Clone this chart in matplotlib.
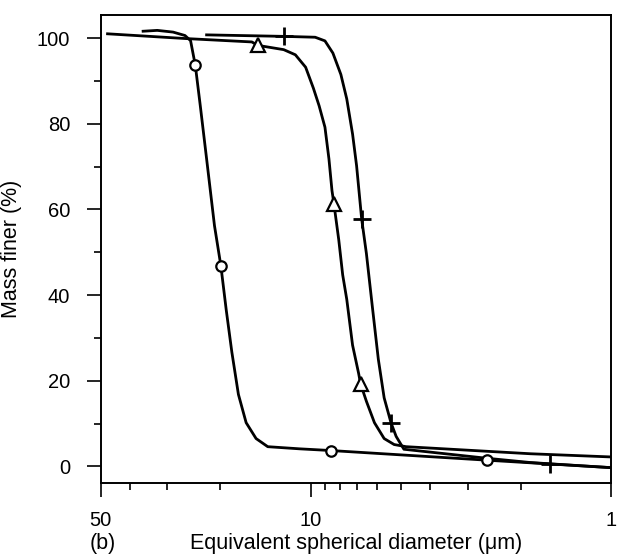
import matplotlib
matplotlib.use("Agg")
import matplotlib.pyplot as plt
from matplotlib.ticker import FixedLocator, NullFormatter

plt.rcParams['font.family'] = ['Liberation Sans', 'DejaVu Sans']

# Крива з колами (o)
circle_d = [36.1, 32.4, 28.7, 26.2, 25.1, 24.2, 23.3, 22.2, 20.9, 19.9, 19.1, 18.3,
            17.4, 16.4, 15.2, 13.9, 10.9, 8.57, 2.6, 1.0]
circle_m = [101.6, 101.8, 101.4, 100.6, 99.4, 93.6, 84.2, 71.8, 56.2, 46.8, 36.5, 26.7,
            16.8, 10.2, 6.5, 4.6, 4.1, 3.7, 1.45, -0.3]
circle_mark_d = [24.2, 19.9, 8.57, 2.6]
circle_mark_m = [93.6, 46.8, 3.7, 1.45]

# Крива з трикутниками
tri_d = [47.4, 26.2, 15.7, 15.0, 12.3, 11.25, 10.4, 9.8, 9.38, 8.97, 8.7, 8.5, 8.37,
         8.07, 7.83, 7.59, 7.26, 6.93, 6.83, 6.53, 6.14, 5.7, 5.28, 4.82, 1.86, 1.0]
tri_m = [101.0, 99.9, 99.1, 98.3, 97.3, 96.1, 93.2, 88.3, 84.2, 79.2, 71.8, 64.4, 61.2,
         52.9, 44.7, 39.0, 28.3, 21.7, 19.3, 15.2, 10.2, 6.5, 5.1, 4.6, 2.95, 2.2]
tri_mark_d = [15.0, 8.37, 6.83]
tri_mark_m = [98.3, 61.2, 19.3]

# Крива з хрестиками (+)
plus_d = [22.2, 12.3, 9.67, 8.97, 8.44, 7.94, 7.59, 7.26, 7.04, 6.77, 6.53, 6.24,
          5.96, 5.7, 5.41, 5.2, 4.9, 2.6, 1.86, 1.6, 1.0]
plus_m = [100.75, 100.4, 100.2, 99.35, 96.5, 91.5, 85.8, 77.6, 70.2, 57.7, 49.7, 37.3,
          25.0, 16.0, 10.2, 7.0, 4.0, 1.9, 0.9, 0.6, -0.3]
plus_mark_d = [12.3, 6.77, 5.41, 1.6]
plus_mark_m = [100.4, 57.7, 10.2, 0.6]

x_major = [50, 10, 1]
x_major_labels = ['50', '10', '1']
x_minor = [40, 30, 20, 9, 8, 7, 6, 5, 4, 3, 2]
y_major = [0, 20, 40, 60, 80, 100]
y_minor = [10, 30, 50, 70, 90]

fig = plt.figure(figsize=(6.17, 5.54), dpi=100)
ax = fig.add_axes([0.163, 0.128, 0.828, 0.845])

lw = 2.0
ax.plot(circle_d, circle_m, color='black', lw=lw)
ax.plot(tri_d, tri_m, color='black', lw=lw)
ax.plot(plus_d, plus_m, color='black', lw=lw)

# маркери
ax.plot(circle_mark_d, circle_mark_m, 'o', ms=7.5, mfc='white', mec='black', mew=1.6, ls='none')
ax.plot(tri_mark_d, tri_mark_m, '^', ms=9.5, mfc='white', mec='black', mew=1.6, ls='none')
ax.plot(plus_mark_d, plus_mark_m, '+', ms=13, mec='black', mew=2.0, ls='none')

ax.set_xscale('log')
ax.set_xlim(50, 1)
ax.set_ylim(-3.9, 105.4)

ax.xaxis.set_major_locator(FixedLocator(x_major))
ax.set_xticklabels(x_major_labels)
ax.xaxis.set_minor_locator(FixedLocator(x_minor))
ax.xaxis.set_minor_formatter(NullFormatter())
ax.set_yticks(y_major)
ax.yaxis.set_minor_locator(FixedLocator(y_minor))

ax.tick_params(which='major', length=10, width=1.2, labelsize=14.5, direction='out')
ax.tick_params(which='minor', length=5, width=1.2, direction='out')
ax.tick_params(axis='y', which='major', pad=12)
ax.tick_params(axis='x', which='major', pad=10)
ax.tick_params(top=False, right=False)

for sp in ax.spines.values():
    sp.set_linewidth(1.4)

ax.set_ylabel('Mass finer (%)', fontsize=15.5)
ax.yaxis.set_label_coords(-0.154, 0.5)
ax.set_xlabel('Equivalent spherical diameter (\u03bcm)', fontsize=15.5, va='center')
ax.xaxis.set_label_coords(0.5, -0.128)
fig.text(103 / 617, 1 - 543 / 554, '(b)', fontsize=15.5, ha='center', va='center')

plt.savefig('out.png', dpi=100)
